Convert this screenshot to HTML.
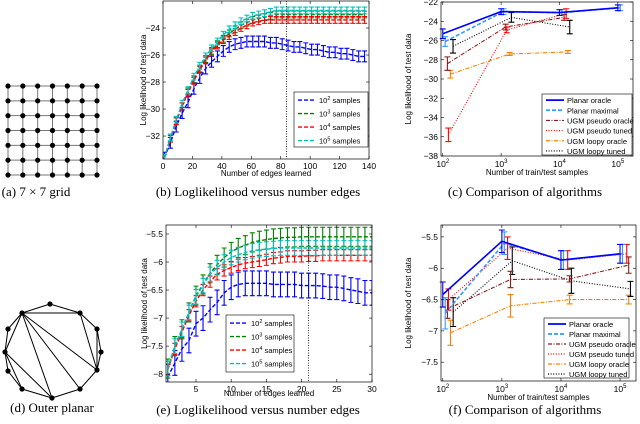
<!DOCTYPE html>
<html><head><meta charset="utf-8">
<style>
html,body{margin:0;padding:0;background:#fff;}
svg{display:block;font-family:"Liberation Sans",sans-serif;}
.cap{font-family:"Liberation Serif",serif;font-size:13px;}
</style></head>
<body>
<svg id="fig" width="640" height="424" viewBox="0 0 640 424" xmlns="http://www.w3.org/2000/svg">
<g id="grid-a"></g>
<g id="graph-d"></g>
<text class="cap" x="36" y="196" text-anchor="middle">(a) 7 × 7 grid</text>
<text class="cap" x="258" y="196" text-anchor="middle">(b) Loglikelihood versus number edges</text>
<text class="cap" x="525" y="196" text-anchor="middle">(c) Comparison of algorithms</text>
<text class="cap" x="52" y="412" text-anchor="middle">(d) Outer planar</text>
<text class="cap" x="258" y="414" text-anchor="middle">(e) Loglikelihood versus number edges</text>
<text class="cap" x="525" y="414" text-anchor="middle">(f) Comparison of algorithms</text>
</svg>
<script>
// ---- panel b data ----
const bX = [1,5,9,13,17,21,25,29,33,37,41,45,49,53,57,61,65,69,73,77,81,85,89,93,97,101,105,109,113,117,121,125,129,133,137];
const b100 = [-33.6,-32.5,-31.3,-30.3,-29.5,-28.5,-27.7,-27.0,-26.5,-26.1,-25.7,-25.4,-25.2,-25.1,-25.0,-25.0,-25.0,-25.0,-25.1,-25.1,-25.2,-25.3,-25.4,-25.4,-25.5,-25.6,-25.6,-25.7,-25.8,-25.8,-25.9,-25.9,-26.0,-26.1,-26.1];
const b1000 = [-33.6,-32.2,-30.9,-29.8,-28.7,-27.8,-27.0,-26.3,-25.7,-25.2,-24.8,-24.4,-24.1,-23.8,-23.6,-23.4,-23.3,-23.2,-23.1,-23.0,-23.0,-23.0,-23.0,-23.0,-23.0,-23.0,-23.0,-23.0,-23.0,-23.0,-23.0,-23.0,-23.0,-23.0,-23.0];
const b10000 = [-33.6,-32.2,-30.9,-29.8,-28.8,-27.9,-27.1,-26.4,-25.8,-25.3,-24.9,-24.6,-24.3,-24.0,-23.8,-23.6,-23.5,-23.4,-23.4,-23.4,-23.4,-23.4,-23.4,-23.4,-23.4,-23.4,-23.4,-23.4,-23.4,-23.4,-23.4,-23.4,-23.4,-23.4,-23.4];
const b100000 = [-33.6,-32.1,-30.8,-29.6,-28.6,-27.6,-26.8,-26.1,-25.5,-25.0,-24.5,-24.1,-23.8,-23.5,-23.3,-23.1,-23.0,-22.9,-22.8,-22.7,-22.7,-22.7,-22.7,-22.7,-22.7,-22.7,-22.7,-22.7,-22.7,-22.7,-22.7,-22.7,-22.7,-22.7,-22.7];
const bErr = [0.4,0.25,0.25,0.25];
const bXTicks = [0,20,40,60,80,100,120,140];
const bYTicks = [-32,-30,-28,-26,-24];
const bCut = 84;
// ---- panel e data ----
const eX = [1,2,3,4,5,6,7,8,9,10,11,12,13,14,15,16,17,18,19,20,21,22,23,24,25,26,27,28,29,30];
const e100 = [-8.05,-7.8,-7.55,-7.4,-7.1,-7.0,-6.85,-6.72,-6.55,-6.45,-6.4,-6.38,-6.38,-6.38,-6.38,-6.4,-6.4,-6.4,-6.4,-6.42,-6.42,-6.42,-6.43,-6.45,-6.45,-6.47,-6.5,-6.52,-6.55,-6.55];
const e1000 = [-7.9,-7.5,-7.2,-6.9,-6.6,-6.4,-6.2,-6.05,-5.92,-5.82,-5.75,-5.7,-5.65,-5.62,-5.6,-5.58,-5.57,-5.56,-5.56,-5.55,-5.55,-5.55,-5.55,-5.55,-5.55,-5.55,-5.55,-5.55,-5.55,-5.55];
const e10000 = [-7.92,-7.55,-7.25,-6.95,-6.7,-6.5,-6.35,-6.22,-6.15,-6.1,-6.05,-6.02,-6.0,-5.98,-5.96,-5.93,-5.92,-5.9,-5.9,-5.9,-5.89,-5.89,-5.88,-5.88,-5.88,-5.88,-5.88,-5.88,-5.88,-5.88];
const e100000 = [-7.9,-7.5,-7.2,-6.9,-6.62,-6.42,-6.22,-6.1,-6.0,-5.92,-5.87,-5.83,-5.8,-5.78,-5.77,-5.76,-5.75,-5.75,-5.75,-5.75,-5.75,-5.75,-5.75,-5.75,-5.75,-5.75,-5.75,-5.75,-5.75,-5.75];
const eErr = [0.22,0.17,0.1,0.13];
const eXTicks = [5,10,15,20,25,30];
const eYTicks = [-8,-7.5,-7,-6.5,-6,-5.5];
const eCut = 21;
// ---- panel c data ----
const cPOx=[100,1000,10000,100000], cPOy=[-25.3,-23.0,-23.1,-22.6], cPOe=[0.5,0.3,0.3,0.3];
const cPMx=[110,1100,11000,110000], cPMy=[-26.1,-23.0,-23.1,-22.6], cPMe=[0.5,0.3,0.3,0.3];
const cSOx=[120,1200,12000], cSOy=[-28.4,-24.6,-23.6], cSOe=[0.7,0.3,0.3];
const cSTx=[125,1250,13000], cSTy=[-35.8,-24.9,-23.2], cSTe=[0.7,0.3,0.5];
const cLOx=[135,1400,14000], cLOy=[-29.5,-27.4,-27.2], cLOe=[0.4,0.15,0.15];
const cLTx=[150,1500,15000], cLTy=[-26.6,-23.6,-24.6], cLTe=[0.7,0.5,0.7];
const cYTicks=[-38,-36,-34,-32,-30,-28,-26,-24,-22];
// ---- panel f data ----
const fPOx=[100,1000,10000,100000], fPOy=[-6.42,-5.57,-5.87,-5.77], fPOe=[0.2,0.18,0.15,0.15];
const fPMx=[110,1100,11000,110000], fPMy=[-6.72,-5.6,-5.87,-5.77], fPMe=[0.25,0.18,0.15,0.15];
const fSOx=[120,1400,14000,140000], fSOy=[-6.65,-6.18,-6.17,-5.95], fSOe=[0.15,0.13,0.05,0.13];
const fSTx=[125,1250,13000,130000], fSTy=[-6.5,-5.68,-5.87,-5.77], fSTe=[0.17,0.18,0.15,0.15];
const fLOx=[135,1400,14000,140000], fLOy=[-7.03,-6.6,-6.5,-6.5], fLOe=[0.2,0.18,0.07,0.07];
const fLTx=[150,1500,15000,150000], fLTy=[-6.7,-5.88,-6.2,-6.33], fLTe=[0.23,0.22,0.2,0.12];
const fYTicks=[-7.5,-7,-6.5,-6,-5.5];
const logTicks=[2,3,4,5];

const NS="http://www.w3.org/2000/svg";
const svg=document.getElementById('fig');
function mk(tag,attrs,parent){const e=document.createElementNS(NS,tag);for(const k in attrs)e.setAttribute(k,attrs[k]);(parent||svg).appendChild(e);return e;}
function lin(d0,d1,p0,p1){return v=>p0+(v-d0)*(p1-p0)/(d1-d0);}
function fmt(v){return (v<0?'\u2212':'')+Math.abs(v);}

const DASH={solid:'',dash:'4,2',dot:'1,1.6',dashdot:'4,1.5,1,1.5'};

function frame(g,L,R,T,B){
  const r=mk('rect',{x:L,y:T,width:R-L,height:B-T,fill:'none',stroke:'#000','stroke-width':0.7},g);
  
  
}
function yAxis(g,L,R,ys,ticks,title,fmtF){
  ticks.forEach(t=>{
    const y=ys(t);
    mk('line',{x1:L,x2:L+3,y1:y,y2:y,stroke:'#000','stroke-width':0.6},g);
    mk('line',{x1:R,x2:R-3,y1:y,y2:y,stroke:'#000','stroke-width':0.6},g);
    const tx=mk('text',{x:L-3,y:y+3,'font-size':8.5,'text-anchor':'end'},g);
    tx.textContent=fmtF(t);
    
    
  });
}
function xAxisLin(g,T,B,xs,ticks){
  ticks.forEach(t=>{
    const x=xs(t);
    mk('line',{x1:x,x2:x,y1:B,y2:B-3,stroke:'#000','stroke-width':0.6},g);
    mk('line',{x1:x,x2:x,y1:T,y2:T+3,stroke:'#000','stroke-width':0.6},g);
    const tx=mk('text',{x:x,y:B+10,'font-size':8.5,'text-anchor':'middle'},g);
    tx.textContent=String(t);
    
    
  });
}
function xAxisLog(g,T,B,xs,ticks){
  ticks.forEach(t=>{
    const x=xs(t);
    mk('line',{x1:x,x2:x,y1:B,y2:B-3,stroke:'#000','stroke-width':0.6},g);
    mk('line',{x1:x,x2:x,y1:T,y2:T+3,stroke:'#000','stroke-width':0.6},g);
    const tx=mk('text',{x:x,y:B+11,'font-size':8.5,'text-anchor':'middle'},g);
    
    
    tx.appendChild(document.createTextNode('10'));
    const s=mk('tspan',{dy:-4,'font-size':6},tx);s.textContent=String(t);
  });
}
function titles(g,cx,yX,xt,tx,cy,yt){
  const a=mk('text',{x:cx,y:yX,'font-size':8,'text-anchor':'middle'},g);a.textContent=xt;
  
  
  const b=mk('text',{x:tx,y:cy,'font-size':8,'text-anchor':'middle',transform:`rotate(-90 ${tx} ${cy})`},g);b.textContent=yt;
  
  
}
function series(g,xsArr,ysArr,errArr,xs,ys,color,style,name,cap,lw){
  const pts=xsArr.map((x,i)=>xs(x).toFixed(1)+','+ys(ysArr[i]).toFixed(1)).join(' ');
  const pl=mk('polyline',{points:pts,fill:'none',stroke:color,'stroke-width':lw||1.3,'stroke-dasharray':DASH[style]},g);
  
  
  xsArr.forEach((x,i)=>{
    const e=Array.isArray(errArr)?errArr[i]:errArr;
    const X=xs(x),y1=ys(ysArr[i]-e),y2=ys(ysArr[i]+e);
    const eb=mk('path',{d:`M${X},${y1}V${y2}M${X-cap},${y1}H${X+cap}M${X-cap},${y2}H${X+cap}`,stroke:color,'stroke-width':1.1,fill:'none'},g);
    
    
  });
}
function legend(g,L,T,R,B,entries,rowH){
  const box=mk('rect',{x:L,y:T,width:R-L,height:B-T,fill:'#fff',stroke:'#000','stroke-width':0.6},g);
  
  
  entries.forEach((en,i)=>{
    const y=T+rowH*0.6+i*rowH;
    const ln=mk('line',{x1:L+4,x2:L+22,y1:y,y2:y,stroke:en.c,'stroke-width':en.lw||1.4,'stroke-dasharray':DASH[en.s]},g);
    
    
    const t=mk('text',{x:L+25,y:y+3,'font-size':7.5},g);
    
    
    if(en.sup){t.appendChild(document.createTextNode('10'));const s=mk('tspan',{dy:-3,'font-size':5.5},t);s.textContent=en.sup;const r=mk('tspan',{dy:3},t);r.textContent=' samples';}
    else t.textContent=en.t;
  });
}

// ---- panel b ----
(function(){
  const g=mk('g',{});
  const L=163,R=369,T=1,B=159;
  const xs=lin(0,140,L,R), ys=lin(-33.7,-22,B,T);
  const clip=mk('clipPath',{id:'cb'},g);mk('rect',{x:L,y:T,width:R-L,height:B-T},clip);
  const pg=mk('g',{'clip-path':'url(#cb)'},g);
  const cols=['#0000ff','#008000','#ff0000','#00bfbf'];
  [b100,b1000,b10000,b100000].forEach((s,i)=>series(pg,bX,s,bErr[i],xs,ys,cols[i],'dash','b-series-'+i,2.5,1.4));
  const cut=mk('line',{x1:xs(bCut),x2:xs(bCut),y1:T,y2:B,stroke:'#000','stroke-width':0.8,'stroke-dasharray':'1,1.5'},g);
  
  frame(g,L,R,T,B);
  yAxis(g,L,R,ys,bYTicks,'',fmt);
  xAxisLin(g,T,B,xs,bXTicks);
  titles(g,(L+R)/2,176,'Number of edges learned',146,(T+B)/2,'Log likelihood of test data');
  legend(g,294,92,368,147,cols.map((c,i)=>({c:c,s:'dash',sup:String(i+2)})),13.5);
})();
// ---- panel e ----
(function(){
  const g=mk('g',{});
  const L=166,R=372,T=225,B=382;
  const xs=lin(0.74,30,L,R), ys=lin(-8.14,-5.34,B,T);
  const clip=mk('clipPath',{id:'ce'},g);mk('rect',{x:L,y:T,width:R-L,height:B-T},clip);
  const pg=mk('g',{'clip-path':'url(#ce)'},g);
  const cols=['#0000ff','#008000','#ff0000','#00bfbf'];
  [e100,e1000,e10000,e100000].forEach((s,i)=>series(pg,eX,s,eErr[i],xs,ys,cols[i],'dash','e-series-'+i,2.5,1.4));
  const cut=mk('line',{x1:xs(eCut),x2:xs(eCut),y1:T,y2:B,stroke:'#000','stroke-width':0.8,'stroke-dasharray':'1,1.5'},g);
  
  frame(g,L,R,T,B);
  yAxis(g,L,R,ys,eYTicks,'',fmt);
  xAxisLin(g,T,B,xs,eXTicks);
  titles(g,(L+R)/2,396,'Number of edges learned',147,(T+B)/2,'Log likelihood of test data');
  legend(g,226,315,294,372,cols.map((c,i)=>({c:c,s:'dash',sup:String(i+2)})),13.5);
})();
// ---- comparison panels ----
const algCols=['#0000ff','#3399ff','#8b1a1a','#ff0000','#ff8000','#000000'];
const algStyles=['solid','dash','dashdot','dot','dashdot','dot'];
const algNames=['Planar oracle','Planar maximal','UGM pseudo oracle','UGM pseudo tuned','UGM loopy oracle','UGM loopy tuned'];
function compPanel(id,L,R,T,B,xmin,xmax,ymin,ymax,yt,sets,leg,tx,xlY){
  const g=mk('g',{});
  const lx=lin(xmin,xmax,L,R), xs=v=>lx(Math.log10(v)), ys=lin(ymin,ymax,B,T);
  const order=[4,5,2,3,1,0];
  order.forEach(i=>{const s=sets[i];series(g,s[0],s[1],s[2],xs,ys,algCols[i],algStyles[i],'alg-'+i,3,i<2?1.6:1.1);});
  frame(g,L,R,T,B);
  yAxis(g,L,R,ys,yt,'',fmt);
  xAxisLog(g,T,B,lx,logTicks);
  titles(g,(L+R)/2,xlY,'Number of train/test samples',tx,(T+B)/2,'Log likelihood of test data');
  legend(g,leg[0],leg[1],leg[2],leg[3],algNames.map((n,i)=>({c:algCols[i],s:algStyles[i],t:n,lw:i<2?1.8:1.2})),(leg[3]-leg[1])/6);
}
compPanel('panel-c-chart',441,633,2,156,1.97,5.26,-38,-22,cYTicks,
  [[cPOx,cPOy,cPOe],[cPMx,cPMy,cPMe],[cSOx,cSOy,cSOe],[cSTx,cSTy,cSTe],[cLOx,cLOy,cLOe],[cLTx,cLTy,cLTe]],
  [542,94,632,155],411,175);
compPanel('panel-f-chart',441,636,225,381,1.97,5.27,-7.8,-5.31,fYTicks,
  [[fPOx,fPOy,fPOe],[fPMx,fPMy,fPMe],[fSOx,fSOy,fSOe],[fSTx,fSTy,fSTe],[fLOx,fLOy,fLOe],[fLTx,fLTy,fLTe]],
  [544,318,629,378],411,400);

// ---- panel a grid ----
(function(){
  const g=document.getElementById('grid-a');
  const x0=8,y0=86,sp=(97-8)/6;
  for(let i=0;i<7;i++){
    mk('line',{x1:x0,x2:x0+6*sp,y1:y0+i*sp,y2:y0+i*sp,stroke:'#777','stroke-width':1},g);
    mk('line',{y1:y0,y2:y0+6*sp,x1:x0+i*sp,x2:x0+i*sp,stroke:'#777','stroke-width':1},g);
  }
  for(let i=0;i<7;i++)for(let j=0;j<7;j++){
    const c=mk('circle',{cx:x0+j*sp,cy:y0+i*sp,r:2.6,fill:'#000'},g);
    
    
  }
})();
// ---- panel d outer planar ----
(function(){
  const g=document.getElementById('graph-d');
  const N={A:[50,304],B:[22,313],C:[80,313],D:[97,329],E:[101,352],F:[97,370],G:[80,389],H:[52,398],I:[22,389],J:[8,371],K:[5,352],L:[8,329]};
  const E=['BA','AC','CD','DE','EF','FG','GH','HI','IJ','JK','KL','LB','BC','BF','BG','BH','BK','KH','DF','CF','KI'];
  E.forEach(e=>{const a=N[e[0]],b=N[e[1]];mk('line',{x1:a[0],y1:a[1],x2:b[0],y2:b[1],stroke:'#000','stroke-width':1},g);});
  Object.keys(N).forEach(k=>{
    const c=mk('circle',{cx:N[k][0],cy:N[k][1],r:2.6,fill:'#000'},g);
    
    
  });
})();
</script>
</body></html>
